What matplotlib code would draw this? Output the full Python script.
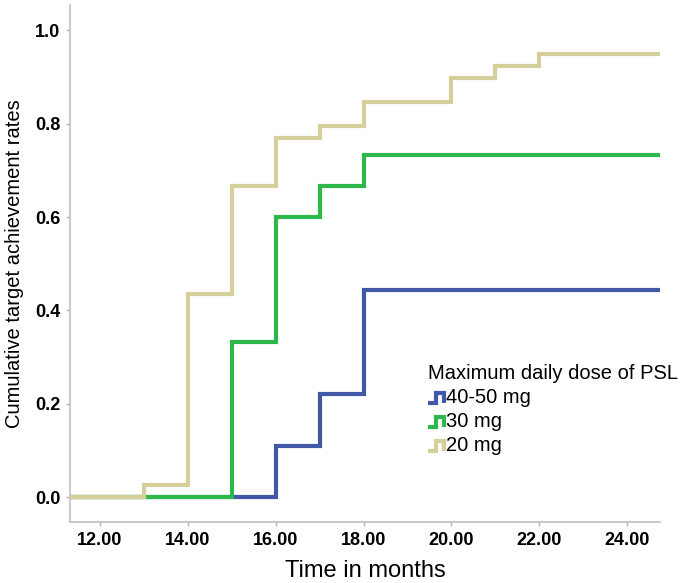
import matplotlib
matplotlib.use('Agg')
import matplotlib.pyplot as plt
from matplotlib.lines import Line2D
from matplotlib.legend_handler import HandlerBase
from matplotlib.ticker import FormatStrFormatter

plt.rcParams['font.family'] = ['Liberation Sans', 'DejaVu Sans']

# step curves: time of each step (months) and the cumulative rate after it
labels = ['40-50 mg', '30 mg', '20 mg']
colors = ['#3f58a8', '#2eb84b', '#d4cf9b']

times_4050 = [0, 16, 17, 18, 24.7]
rates_4050 = [0.0, 0.111, 0.222, 0.444, 0.444]

times_30 = [0, 15, 16, 17, 18, 24.7]
rates_30 = [0.0, 0.333, 0.600, 0.667, 0.733, 0.733]

times_20 = [0, 13, 14, 15, 16, 17, 18, 20, 21, 22, 24.7]
rates_20 = [0.0, 0.026, 0.436, 0.667, 0.769, 0.795, 0.846, 0.897, 0.923, 0.949, 0.949]

xticks = [12, 14, 16, 18, 20, 22, 24]
yticks = [0.0, 0.2, 0.4, 0.6, 0.8, 1.0]


class StepHandler(HandlerBase):
    # little step glyph like the SPSS legend
    def create_artists(self, legend, orig_handle, xdescent, ydescent, width, height, fontsize, trans):
        x0 = -xdescent
        y0 = -ydescent
        xs = [x0, x0 + width * 0.45, x0 + width * 0.45, x0 + width, x0 + width]
        ys = [y0 + height * 0.05, y0 + height * 0.05, y0 + height * 0.7, y0 + height * 0.7, y0 + height * 0.05]
        line = Line2D(xs, ys, color=orig_handle.get_color(), lw=3, transform=trans,
                      solid_joinstyle='miter', solid_capstyle='butt')
        return [line]


fig = plt.figure(figsize=(6.85, 5.83), dpi=100)
ax = fig.add_axes([0.102, 0.105, 0.862, 0.886])

series = [(times_4050, rates_4050), (times_30, rates_30), (times_20, rates_20)]
handles = []
for i, ((t, r), lbl, c) in enumerate(zip(series, labels, colors)):
    h, = ax.step(t, r, where='post', color=c, lw=3, label=lbl, zorder=2 + i,
                 solid_joinstyle='miter')
    handles.append(h)

ax.set_xlim(11.32, 24.75)
ax.set_ylim(-0.052, 1.053)
ax.set_xticks(xticks)
ax.set_yticks(yticks)
ax.xaxis.set_major_formatter(FormatStrFormatter('%.2f'))
ax.yaxis.set_major_formatter(FormatStrFormatter('%.1f'))

for s in ['top', 'right']:
    ax.spines[s].set_visible(False)
for s in ['left', 'bottom']:
    ax.spines[s].set_color('#c0c0c0')
    ax.spines[s].set_linewidth(1.2)
ax.tick_params(axis='both', colors='#b5b5b5', length=3, width=1, labelcolor='black', pad=4)
for lbl in ax.get_xticklabels() + ax.get_yticklabels():
    lbl.set_fontweight('bold')
    lbl.set_fontsize(13)

ax.set_xlabel('Time in months', fontsize=17, labelpad=8.5)
ax.set_ylabel('Cumulative target achievement rates', fontsize=14.5, labelpad=8)

leg = ax.legend(handles, labels, title='Maximum daily dose of PSL', loc='upper left',
                bbox_to_anchor=(0.607, 0.305), frameon=False, fontsize=14.5, title_fontsize=14.5,
                handlelength=0.8, handletextpad=0.1, labelspacing=0.25, borderaxespad=0,
                borderpad=0, alignment='left', handler_map={Line2D: StepHandler()})

fig.savefig('out.png', dpi=100)
